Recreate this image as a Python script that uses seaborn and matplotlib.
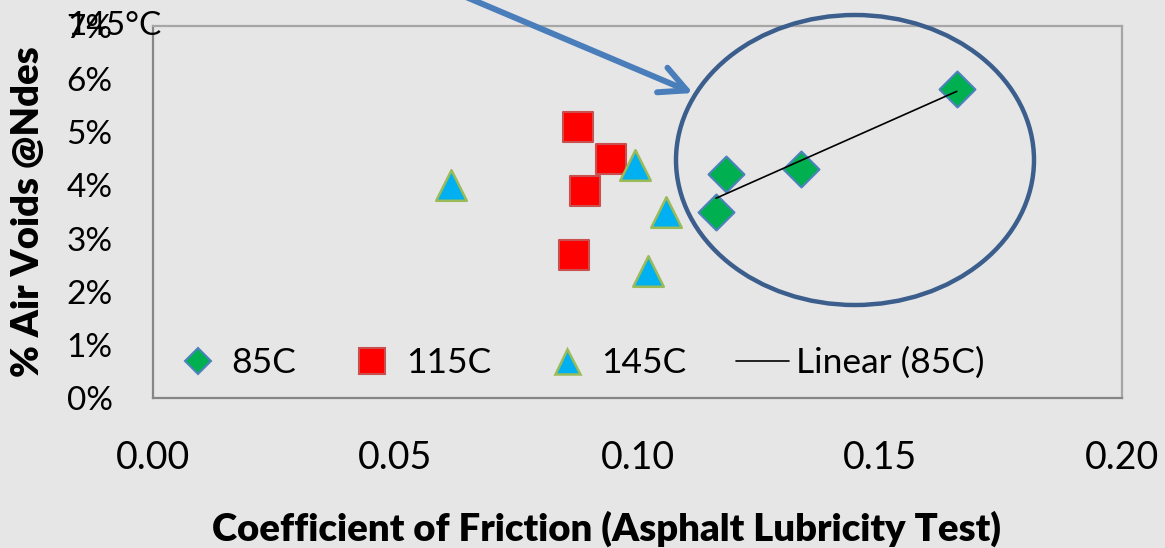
import matplotlib
import numpy as np
import seaborn as sns

matplotlib.use("Agg")

import matplotlib.pyplot as plt
from matplotlib.lines import Line2D
from matplotlib.patches import Ellipse

# coefficient of friction vs % air voids, one series per temperature
friction_85c = [0.1162, 0.1183, 0.1337, 0.1659]
voids_85c = [3.50, 4.22, 4.31, 5.81]
friction_115c = [0.0869, 0.0877, 0.0892, 0.0945]
voids_115c = [2.69, 5.10, 3.90, 4.50]
friction_145c = [0.0615, 0.0995, 0.1022, 0.1059]
voids_145c = [4.01, 4.38, 2.39, 3.50]

series_labels = ["85C", "115C", "145C", "Linear (85C)"]
x_ticks = [0.00, 0.05, 0.10, 0.15, 0.20]
y_ticks = [0, 1, 2, 3, 4, 5, 6, 7]

BG = "#e6e6e6"
FONT = ["Lato", "DejaVu Sans"]

sns.set_style("white")
plt.rcParams["font.family"] = FONT
plt.rcParams["axes.facecolor"] = BG
plt.rcParams["figure.facecolor"] = BG
for key in ["text.color", "axes.labelcolor", "xtick.labelcolor", "ytick.labelcolor"]:
    plt.rcParams[key] = "black"

W, H = 1165, 548
fig = plt.figure(figsize=(W / 100, H / 100), dpi=100)
ax = fig.add_axes([153 / W, 1 - 398 / H, 969 / W, 372 / H])

sns.scatterplot(x=friction_85c, y=voids_85c, marker="D", s=18.3 ** 2,
                color="#00b050", edgecolor="#4f81bd", linewidth=1.5, ax=ax, zorder=4)
sns.scatterplot(x=friction_115c, y=voids_115c, marker="s", s=22 ** 2,
                color="#ff0000", edgecolor="#c9504f", linewidth=1.5, ax=ax, zorder=3)
sns.scatterplot(x=friction_145c, y=voids_145c, marker="^", s=22 ** 2,
                color="#00b0f0", edgecolor="#9bbb59", linewidth=1.8, ax=ax, zorder=3)

# linear trend for 85C
slope, intercept = np.polyfit(friction_85c, voids_85c, 1)
fit_x = np.array([min(friction_85c), max(friction_85c)])
ax.plot(fit_x, slope * fit_x + intercept, color="black", lw=1.2, zorder=5)

ax.set_xlim(x_ticks[0], x_ticks[-1])
ax.set_ylim(y_ticks[0], y_ticks[-1])
ax.set_xticks(x_ticks)
ax.set_yticks(y_ticks)
ax.set_xticklabels([f"{t:.2f}" for t in x_ticks], fontsize=27)
ax.set_yticklabels([f"{t}%" for t in y_ticks], fontsize=24)
ax.tick_params(axis="x", direction="in", length=9, width=1.2, color="#868686", pad=30)
ax.tick_params(axis="y", direction="out", length=9, width=1.2, color="#868686", pad=20)

for side in ["left", "bottom"]:
    ax.spines[side].set_color("#868686")
    ax.spines[side].set_linewidth(1.6)
for side in ["top", "right"]:
    ax.spines[side].set_color("#a6a6a6")
    ax.spines[side].set_linewidth(1.6)

ax.set_xlabel("Coefficient of Friction (Asphalt Lubricity Test)", fontsize=27.5, fontweight="heavy")
ax.set_ylabel("% Air Voids @Ndes", fontsize=27.5, fontweight="heavy")
ax.xaxis.set_label_coords((607 - 153) / 969, -(529 - 398) / 372)
ax.xaxis.label.set_va("center")
ax.yaxis.set_label_coords(-(153 - 28) / 969, 0.5)
ax.yaxis.label.set_va("center")

handles = [
    Line2D([], [], ls="", marker="D", ms=13.5, mfc="#00b050", mec="#4f81bd", mew=1.5),
    Line2D([], [], ls="", marker="s", ms=18.5, mfc="#ff0000", mec="#c9504f", mew=1.5),
    Line2D([], [], ls="", marker="^", ms=18, mfc="#00b0f0", mec="#9bbb59", mew=1.8),
    Line2D([], [], color="black", lw=1.2),
]
ax.legend(handles, series_labels, loc="center left", bbox_to_anchor=(0.0186, 0.094),
          ncol=4, frameon=False, fontsize=25.5, handlelength=1.5, handletextpad=0.2,
          columnspacing=1.4, borderpad=0, borderaxespad=0)

# stray text box and annotation shapes
fig.text(67 / W, 1 - 26 / H, "145°C", fontsize=24, ha="left", va="center")
fig.add_artist(Ellipse((855 / W, 1 - 160 / H), 358 / W, 290 / H, transform=fig.transFigure,
                       fill=False, edgecolor="#3b5e8c", lw=3.2, clip_on=False, zorder=6))
ax.annotate("", xy=(693, H - 93), xycoords="figure pixels",
            xytext=(466, H + 3), textcoords="figure pixels",
            arrowprops=dict(arrowstyle="->,head_length=0.8,head_width=0.4", mutation_scale=24,
                            color="#4a7ebb", lw=4.3, capstyle="round", joinstyle="round",
                            shrinkA=0, shrinkB=0),
            annotation_clip=False)

fig.savefig("out.png", dpi=100, facecolor=BG)
